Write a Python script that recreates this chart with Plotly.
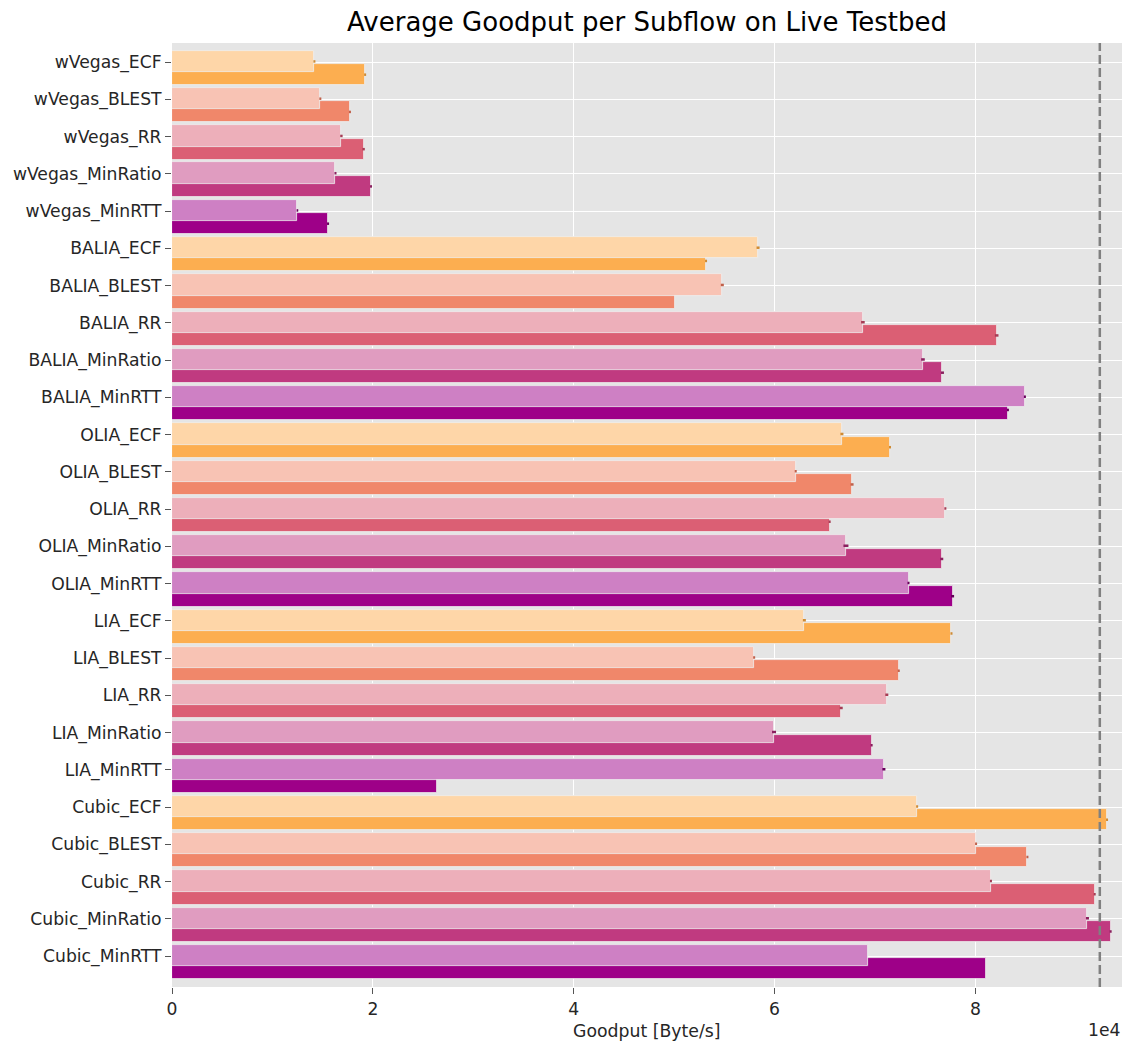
import plotly.graph_objects as go

# Congestion control / scheduler combinations, top to bottom
labels = [
    "wVegas_ECF", "wVegas_BLEST", "wVegas_RR", "wVegas_MinRatio", "wVegas_MinRTT",
    "BALIA_ECF", "BALIA_BLEST", "BALIA_RR", "BALIA_MinRatio", "BALIA_MinRTT",
    "OLIA_ECF", "OLIA_BLEST", "OLIA_RR", "OLIA_MinRatio", "OLIA_MinRTT",
    "LIA_ECF", "LIA_BLEST", "LIA_RR", "LIA_MinRatio", "LIA_MinRTT",
    "Cubic_ECF", "Cubic_BLEST", "Cubic_RR", "Cubic_MinRatio", "Cubic_MinRTT",
]
schedulers = ["ECF", "BLEST", "RR", "MinRatio", "MinRTT"]

# Mean goodput [Byte/s] of the first and second subflow
subflow1 = [
    14180, 14770, 16870, 16280, 12490,
    58360, 54800, 68800, 74780, 84930,
    66710, 62110, 77010, 67110, 73340,
    62970, 57970, 71180, 59950, 70890,
    74200, 80070, 81550, 91160, 69310,
]
subflow2 = [
    19230, 17720, 19080, 19820, 15540,
    53180, 50040, 82120, 76720, 83240,
    71500, 67720, 65490, 76650, 77730,
    77620, 72370, 66640, 69670, 26340,
    93110, 85180, 91880, 93470, 81050,
]
# Standard errors [Byte/s]
subflow1_err = [
    100, 100, 120, 100, 80,
    150, 150, 180, 180, 100,
    150, 100, 100, 250, 100,
    150, 100, 150, 200, 150,
    100, 100, 100, 150, 0,
]
subflow2_err = [
    100, 100, 120, 100, 100,
    100, 0, 180, 150, 100,
    100, 150, 100, 150, 150,
    100, 100, 150, 100, 0,
    100, 100, 100, 100, 0,
]
capacity_line = 92390

# Scheduler colours (second subflow), error-bar colours
sched_colors = {"ECF": "#fcae50", "BLEST": "#f0876a", "RR": "#db5f74",
                "MinRatio": "#c03a80", "MinRTT": "#9e0088"}
err_colors = {"ECF": "#cf8a32", "BLEST": "#c0604a", "RR": "#a63c55",
              "MinRatio": "#8a1f5e", "MinRTT": "#66005a"}


def lighten(hex_color, f=0.5):
    h = hex_color.lstrip("#")
    r, g, b = (int(h[i:i + 2], 16) for i in (0, 2, 4))
    r, g, b = (round(c + (255 - c) * f) for c in (r, g, b))
    return f"#{r:02x}{g:02x}{b:02x}"


positions = list(range(len(labels)))
sched_of = [lab.split("_", 1)[1] for lab in labels]

fig = go.Figure()

# Second subflow drawn first, first subflow overlaid on top
for s in schedulers:
    idx = [i for i, sc in enumerate(sched_of) if sc == s]
    fig.add_trace(go.Bar(
        orientation="h",
        x=[subflow2[i] for i in idx],
        y=[positions[i] + 0.34 for i in idx],
        width=0.56,
        marker=dict(color=sched_colors[s], line=dict(color="#eeeeee", width=0.8)),
        error_x=dict(type="data", array=[subflow2_err[i] for i in idx],
                     color=err_colors[s], thickness=2.5, width=0),
        showlegend=False,
        hoverinfo="x",
    ))
for s in schedulers:
    idx = [i for i, sc in enumerate(sched_of) if sc == s]
    fig.add_trace(go.Bar(
        orientation="h",
        x=[subflow1[i] for i in idx],
        y=[positions[i] - 0.015 for i in idx],
        width=0.575,
        marker=dict(color=lighten(sched_colors[s]), line=dict(color="#eeeeee", width=0.8)),
        error_x=dict(type="data", array=[subflow1_err[i] for i in idx],
                     color=err_colors[s], thickness=2.5, width=0),
        showlegend=False,
        hoverinfo="x",
    ))

fig.add_shape(type="line", xref="x", yref="paper",
              x0=capacity_line, x1=capacity_line, y0=0, y1=1,
              line=dict(color="#808080", width=2.5, dash="9px,4px"), layer="above")

text_color = "#262626"
tick_font = dict(family="DejaVu Sans", size=17.2, color=text_color)

fig.update_layout(
    width=1128, height=1043,
    margin=dict(l=172, r=6, t=43, b=56),
    paper_bgcolor="white",
    plot_bgcolor="#e5e5e5",
    barmode="overlay",
    bargap=0,
    title=dict(text="Average Goodput per Subflow on Live Testbed",
               font=dict(family="DejaVu Sans", size=26, color="black"),
               x=0.5, xanchor="center", xref="paper",
               y=1 - 22 / 1043, yanchor="middle", yref="container"),
    xaxis=dict(
        range=[0, 94600],
        tickvals=[0, 20000, 40000, 60000, 80000],
        ticktext=["0", "2", "4", "6", "8"],
        showgrid=True, gridcolor="white", gridwidth=1.3,
        zeroline=False, showline=False,
        ticks="outside", ticklen=6, tickwidth=1.3, tickcolor="#555555",
        tickfont=tick_font,
    ),
    yaxis=dict(
        range=[24.83, -0.51],
        tickvals=positions,
        ticktext=labels,
        showgrid=True, gridcolor="white", gridwidth=1.3,
        zeroline=False, showline=False,
        ticks="outside", ticklen=6, tickwidth=1.3, tickcolor="#555555",
        tickfont=tick_font,
    ),
    annotations=[
        dict(text="Goodput [Byte/s]", xref="paper", yref="paper",
             x=0.5, y=-44 / 943.4, xanchor="center", yanchor="middle",
             showarrow=False, font=dict(family="DejaVu Sans", size=17.3, color=text_color)),
        dict(text="1e4", xref="paper", yref="paper",
             x=1.0, y=-42.5 / 943.4, xanchor="right", yanchor="middle",
             showarrow=False, font=dict(family="DejaVu Sans", size=17.2, color=text_color)),
    ],
)

fig.write_html("out.html")
